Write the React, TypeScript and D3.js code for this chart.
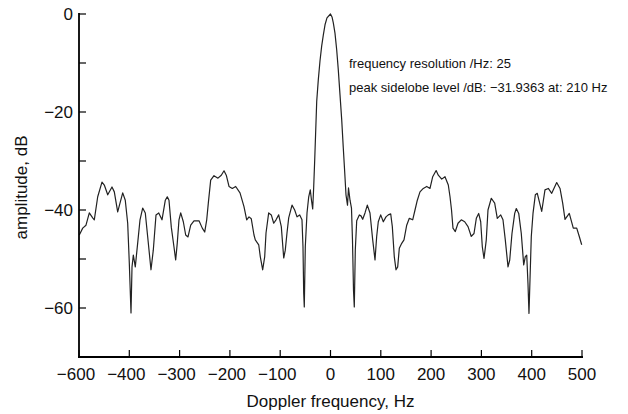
import React from "react";
import * as d3 from "d3";

const freqHz: number[] = [
  -499.4, -492.6, -486.1, -479.5, -472.8, -469.6, -462.8, -454.3, -449.7, -442.9,
  -434.4, -429.8, -423.1, -413.1, -408.0, -403.2, -400.0, -396.6, -394.6, -392.0,
  -388.1, -383.3, -378.7, -373.4, -368.2, -363.4, -356.9, -352.3, -346.9, -341.5,
  -335.0, -328.4, -324.5, -321.1, -316.5, -311.1, -307.8, -304.6, -301.2, -297.8,
  -292.6, -287.9, -283.3, -277.9, -271.4, -261.4, -254.9, -250.1, -246.1, -242.9,
  -238.2, -231.6, -223.7, -217.1, -211.7, -207.2, -201.8, -195.2, -188.5, -179.9,
  -172.0, -166.6, -162.0, -157.5, -152.1, -149.5, -142.7, -139.6, -134.8, -130.8,
  -128.2, -122.9, -117.7, -112.9, -108.3, -103.0, -97.8, -93.0, -89.9, -86.5,
  -83.1, -76.5, -71.2, -66.6, -61.2, -56.7, -54.7, -53.3, -52.1, -50.1,
  -46.7, -43.3, -40.2, -37.8, -35.4, -33.4, -31.4, -27.4, -24.3, -20.9,
  -17.5, -14.3, -10.9, -7.0, 0.0, 3.0, 5.6, 8.9, 12.3, 15.5,
  18.9, 22.3, 25.4, 28.2, 30.8, 33.8, 35.8, 38.8, 41.7, 43.7,
  45.7, 47.3, 49.3, 52.1, 57.3, 60.6, 64.0, 68.6, 73.2, 78.5,
  83.9, 88.5, 91.8, 95.0, 99.8, 105.0, 110.3, 114.9, 119.7, 122.9,
  126.8, 130.2, 133.6, 136.8, 141.6, 146.1, 151.5, 156.7, 163.4, 168.0,
  172.6, 177.9, 184.5, 191.3, 197.8, 203.2, 210.0, 214.3, 221.1, 227.6,
  234.2, 237.6, 240.6, 243.5, 248.1, 253.5, 260.0, 266.8, 273.4, 279.9,
  285.3, 289.9, 294.6, 298.6, 301.8, 305.2, 309.7, 313.1, 319.7, 326.4,
  331.6, 338.4, 342.9, 347.5, 352.9, 356.3, 360.8, 366.2, 369.4, 374.2,
  379.3, 384.1, 387.3, 390.1, 392.6, 394.6, 396.6, 399.2, 402.6, 407.2,
  411.1, 419.9, 426.4, 433.0, 439.8, 449.7, 456.3, 461.6, 466.2, 474.7,
  482.7, 489.5, 494.6, 499.4,
];

const amplitudeDb: number[] = [
  -45.1, -43.7, -43.1, -40.6, -41.6, -42.0, -37.3, -34.3, -34.9, -36.9,
  -35.3, -36.3, -40.4, -36.5, -38.0, -42.7, -50.8, -61.0, -51.6, -49.2,
  -51.6, -46.7, -42.0, -39.6, -40.6, -45.5, -52.2, -48.2, -41.0, -40.6,
  -42.0, -38.0, -37.3, -38.0, -43.5, -47.6, -50.2, -46.7, -42.0, -40.6,
  -42.4, -45.1, -45.5, -43.1, -42.2, -42.2, -43.7, -44.5, -42.0, -38.6,
  -33.9, -33.0, -33.5, -32.9, -32.0, -32.9, -35.2, -35.6, -35.2, -36.5,
  -39.3, -42.0, -41.4, -41.8, -45.1, -46.1, -47.1, -49.5, -52.2, -49.5,
  -44.7, -40.6, -41.0, -42.7, -42.0, -41.0, -43.4, -49.8, -48.2, -44.7,
  -41.6, -39.0, -40.0, -41.4, -41.0, -42.0, -47.5, -56.9, -59.8, -47.5,
  -40.6, -37.3, -35.9, -38.0, -39.8, -35.3, -29.8, -17.8, -13.5, -9.6,
  -6.5, -4.3, -2.2, -0.8, 0.0, -0.6, -1.8, -3.9, -7.3, -11.4,
  -16.5, -21.6, -27.3, -32.2, -36.9, -39.0, -35.5, -38.0, -39.6, -46.1,
  -56.3, -59.8, -48.2, -42.2, -41.0, -41.2, -41.9, -40.6, -39.0, -40.6,
  -46.1, -50.2, -45.4, -42.4, -41.0, -42.4, -41.4, -41.0, -40.8, -43.4,
  -49.5, -52.2, -51.6, -47.8, -46.8, -46.1, -43.1, -41.7, -42.0, -40.0,
  -38.0, -36.3, -35.6, -35.2, -35.6, -33.2, -31.94, -32.9, -33.7, -33.2,
  -34.9, -37.3, -40.0, -43.7, -44.4, -42.7, -42.0, -42.4, -43.4, -45.4,
  -44.8, -41.7, -40.7, -42.4, -47.5, -49.9, -46.1, -40.0, -37.6, -38.6,
  -41.7, -41.0, -42.0, -46.1, -51.6, -50.2, -44.8, -40.7, -39.7, -40.7,
  -44.8, -51.2, -49.5, -49.2, -55.0, -61.1, -54.3, -45.4, -40.7, -36.9,
  -36.6, -40.3, -35.9, -35.6, -36.6, -34.4, -35.6, -38.6, -41.9, -40.7,
  -43.7, -43.7, -45.4, -47.1,
];

const xTickValues: number[] = [-500, -400, -300, -200, -100, 0, 100, 200, 300, 400, 500];
const xTickLabels: string[] = ["−600", "−400", "−300", "−200", "−100", "0", "100", "200", "300", "400", "500"];
const yTickValues: number[] = [0, -10, -20, -30, -40, -50, -60, -70];
const yTickLabels: string[] = ["0", "", "−20", "", "−40", "", "−60", ""];
const annotations: string[] = [
  "frequency resolution /Hz: 25",
  "peak sidelobe level /dB: −31.9363 at: 210 Hz",
];
const xAxisTitle = "Doppler frequency, Hz";
const yAxisTitle = "amplitude, dB";

const W = 628;
const H = 414;
const left = 79;
const right = 582;
const top = 14;
const bottom = 357;
const font = "'Liberation Sans', Arial, Helvetica, sans-serif";

export default function App() {
  const x = d3.scaleLinear().domain([-500, 500]).range([left, right]);
  const y = d3.scaleLinear().domain([-70, 0]).range([bottom, top]);
  const pts: [number, number][] = freqHz.map((f, i) => [f, amplitudeDb[i]]);
  const line = d3
    .line<[number, number]>()
    .x((d) => x(d[0]))
    .y((d) => y(d[1]));
  const path = line(pts) || "";

  return (
    <svg
      width={W}
      height={H}
      viewBox={`0 0 ${W} ${H}`}
      style={{ position: "absolute", left: 0, top: 0, background: "#fff", display: "block" }}
    >
      <rect x={0} y={0} width={W} height={H} fill="#fff" />
      <path d={path} fill="none" stroke="#222" strokeWidth={1.2} strokeLinejoin="round" />
      {/* y axis */}
      <line x1={left} x2={left} y1={top - 1} y2={bottom + 1} stroke="#000" strokeWidth={1.8} />
      {yTickValues.map((v, i) => (
        <g key={"y" + i}>
          <line x1={left} x2={left + 7} y1={y(v)} y2={y(v)} stroke="#000" strokeWidth={1.2} />
          {yTickLabels[i] ? (
            <text
              x={left - 6}
              y={y(v)}
              dy="0.36em"
              textAnchor="end"
              fontFamily={font}
              fontSize={17}
              fill="#111"
            >
              {yTickLabels[i]}
            </text>
          ) : null}
        </g>
      ))}
      {/* x axis */}
      <line x1={left - 1} x2={right + 1} y1={bottom} y2={bottom} stroke="#000" strokeWidth={1.8} />
      {xTickValues.map((v, i) => (
        <g key={"x" + i}>
          <line x1={x(v)} x2={x(v)} y1={bottom} y2={bottom - 7} stroke="#000" strokeWidth={1.2} />
          <text
            x={x(v) + (xTickLabels[i].startsWith("−") ? -3 : 0)}
            y={380}
            textAnchor="middle"
            fontFamily={font}
            fontSize={17}
            fill="#111"
          >
            {xTickLabels[i]}
          </text>
        </g>
      ))}
      <text x={(left + right) / 2} y={407} textAnchor="middle" fontFamily={font} fontSize={17} fill="#111">
        {xAxisTitle}
      </text>
      <text
        transform={`translate(27, ${(top + bottom) / 2 + 2}) rotate(-90)`}
        textAnchor="middle"
        fontFamily={font}
        fontSize={17}
        fill="#111"
      >
        {yAxisTitle}
      </text>
      {annotations.map((t, i) => (
        <text key={"a" + i} x={349} y={68 + i * 24} fontFamily={font} fontSize={13} fill="#111">
          {t}
        </text>
      ))}
    </svg>
  );
}
